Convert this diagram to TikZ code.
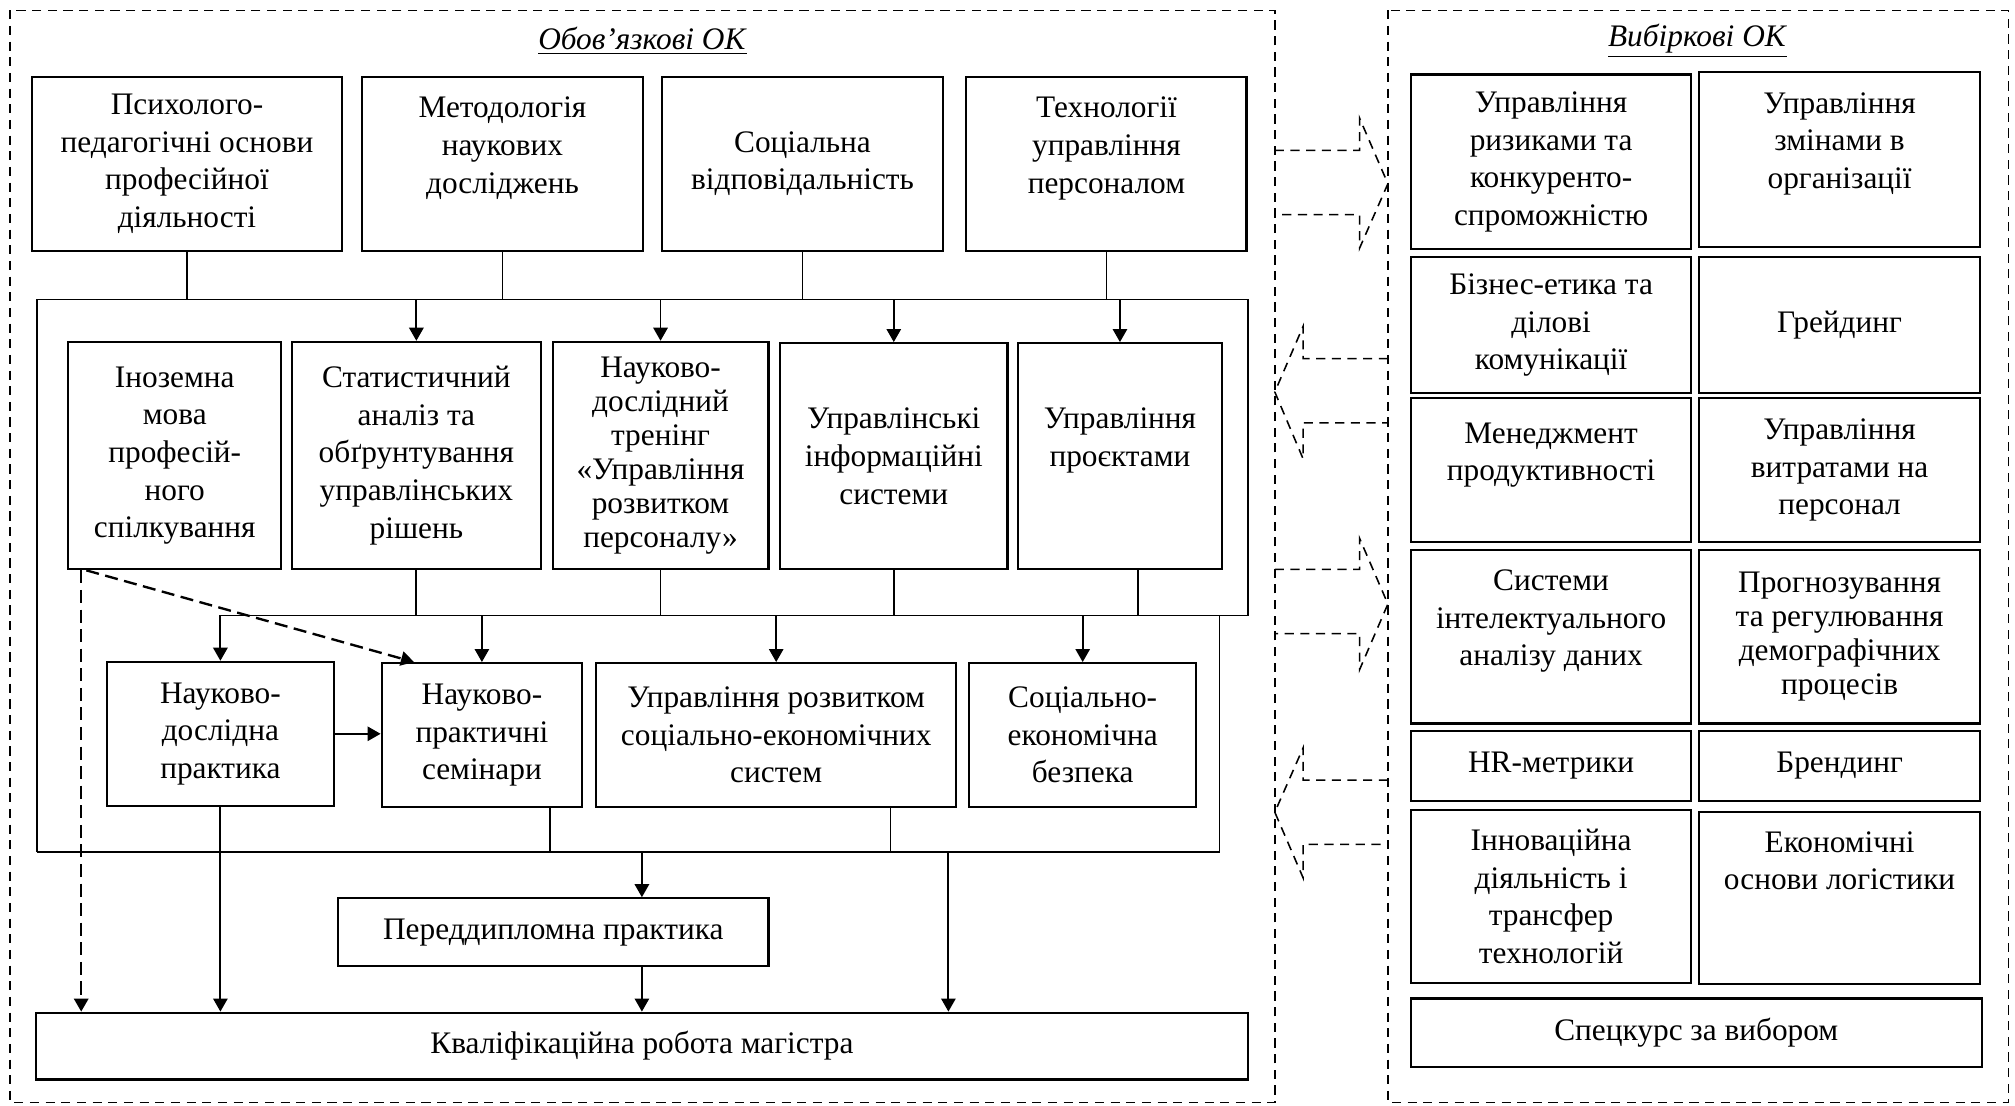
\documentclass[tikz,border=0pt]{standalone}
\usepackage{fontspec}
\setmainfont{Liberation Serif}
\usetikzlibrary{arrows.meta,fit,calc}

\begin{document}
\begin{tikzpicture}[x=0.0173cm,y=-0.0173cm,
                    font=\fontsize{12}{14.4}\selectfont,
                    box/.style={draw,line width=0.8pt,inner sep=0pt},
                    txt/.style={align=center,inner sep=0pt},
                    tight/.style={font=\fontsize{12}{13}\selectfont},
                    link/.style={line width=0.7pt},
                    arr/.style={link,-{Triangle[length=5pt,width=5.5pt]}},
                    dasharr/.style={arr,line width=0.9pt,dash pattern=on 5pt off 2.5pt},
                    zone/.style={line width=0.6pt,dash pattern=on 3.5pt off 2.5pt}]
                    \useasboundingbox (0,0) rectangle (1568,860);
                    \draw[zone] (8,8) rectangle (992,858);
                    \draw[zone] (1080,8) rectangle (1563,858);
                    \node (oblig) at (500,32) {\underline{\textit{Обов’язкові ОК}}};
                    \node (vybir) at (1321,32) {\underline{\textit{Вибіркові ОК}}};
                    \draw[zone] (992,117) -- (1058,117) -- (1058,92) -- (1080,143) -- (1058,193) -- (1058,167) -- (992,167);
                    \draw[zone] (1080,279) -- (1014,279) -- (1014,254) -- (992,305) -- (1014,357) -- (1014,329) -- (1080,329);
                    \draw[zone] (992,443) -- (1058,443) -- (1058,419) -- (1080,470) -- (1058,521) -- (1058,493) -- (992,493);
                    \draw[zone] (1080,607) -- (1014,607) -- (1014,582) -- (992,632) -- (1014,683) -- (1014,657) -- (1080,657);
                    \node[box,fit={(25,60) (266,195)},label={[txt]center:Психолого-\\педагогічні основи\\професійної\\діяльності}] (psy) {};
                    \node[box,fit={(282,60) (500,195)},label={[txt]center:Методологія\\наукових\\досліджень\\\mbox{}}] (met) {};
                    \node[box,fit={(515,60) (734,195)},label={[txt]center:Соціальна\\відповідальність}] (soc) {};
                    \node[box,fit={(752,60) (970,195)},label={[txt]center:Технології\\управління\\персоналом\\\mbox{}}] (tech) {};
                    \node[box,fit={(53,266) (219,443)},label={[txt]center:Іноземна\\мова\\професій-\\ного\\спілкування}] (ino) {};
                    \node[box,fit={(227,266) (421,443)},label={[txt]center:Статистичний\\аналіз та\\обґрунтування\\управлінських\\рішень}] (stat) {};
                    \node[box,fit={(430,266) (598,443)},label={[txt,tight]center:Науково-\\дослідний\\тренінг\\«Управління\\розвитком\\персоналу»}] (ndt) {};
                    \node[box,fit={(607,267) (784,443)},label={[txt]center:Управлінські\\інформаційні\\системи}] (uis) {};
                    \node[box,fit={(792,267) (951,443)},label={[txt]center:Управління\\проєктами\\\mbox{}}] (upr) {};
                    \node[box,fit={(83,515) (260,627)},label={[txt]center:Науково-\\дослідна\\практика}] (ndp) {};
                    \node[box,fit={(297,516) (453,628)},label={[txt]center:Науково-\\практичні\\семінари}] (npr) {};
                    \node[box,fit={(464,516) (744,628)},label={[txt]center:Управління розвитком\\соціально-економічних\\систем}] (urs) {};
                    \node[box,fit={(754,516) (931,628)},label={[txt]center:Соціально-\\економічна\\безпека}] (seb) {};
                    \node[box,fit={(263,699) (598,752)},label={[txt]center:Переддипломна практика}] (perd) {};
                    \node[box,fit={(28,788) (971,840)},label={[txt]center:Кваліфікаційна робота магістра}] (kvr) {};
                    \node[box,fit={(1098,58) (1316,194)},label={[txt]center:Управління\\ризиками та\\конкуренто-\\спроможністю}] (riz) {};
                    \node[box,fit={(1322,56) (1541,192)},label={[txt]center:Управління\\змінами в\\організації\\\mbox{}}] (zmin) {};
                    \node[box,fit={(1098,200) (1316,306)},label={[txt]center:Бізнес-етика та\\ділові\\комунікації}] (etyk) {};
                    \node[box,fit={(1322,200) (1541,306)},label={[txt]center:Грейдинг}] (greid) {};
                    \node[box,fit={(1098,310) (1316,422)},label={[txt]center:Менеджмент\\продуктивності\\\mbox{}}] (prod) {};
                    \node[box,fit={(1322,310) (1541,422)},label={[txt]center:Управління\\витратами на\\персонал}] (vytr) {};
                    \node[box,fit={(1098,428) (1316,563)},label={[txt]center:Системи\\інтелектуального\\аналізу даних\\\mbox{}}] (syst) {};
                    \node[box,fit={(1322,428) (1541,563)},label={[txt,tight]center:Прогнозування\\та регулювання\\демографічних\\процесів}] (progn) {};
                    \node[box,fit={(1098,569) (1316,623)},label={[txt]center:HR-метрики}] (hrm) {};
                    \node[box,fit={(1322,569) (1541,623)},label={[txt]center:Брендинг}] (brend) {};
                    \node[box,fit={(1098,630) (1316,765)},label={[txt]center:Інноваційна\\діяльність і\\трансфер\\технологій}] (innov) {};
                    \node[box,fit={(1322,632) (1541,766)},label={[txt]center:Економічні\\основи логістики\\\mbox{}\\\mbox{}}] (logist) {};
                    \node[box,fit={(1098,777) (1542,830)},label={[txt]center:Спецкурс за вибором}] (spec) {};
                    \coordinate (ftl) at (29,233);
                    \coordinate (ftr) at (971,233);
                    \coordinate (fmr) at (971,479);
                    \coordinate (fbr) at (949,663);
                    \coordinate (fbl) at (29,663);
                    \coordinate (fout) at (738,663);
                    \coordinate (uprout) at ($(upr.south)+(14,0)$);
                    \coordinate (nprout) at ($(npr.south)+(53,0)$);
                    \coordinate (ursout) at ($(urs.south)+(89,0)$);
                    \coordinate (inodown) at ($(ino.south west)+(11,0)$);
                    \coordinate (inodiag) at ($(ino.south west)+(15,0)$);
                    \coordinate (nprin) at ($(npr.north west)+(26,0)$);
                    \foreach \n in {psy,met,soc,tech} \draw[link] (\n.south) -- (\n.south |- ftl);
                    \draw[arr] (fbl) -- (ftl) -- (ftr) -- (fmr) -- (ndp.north |- fmr) -- (ndp.north);
                    \draw[link] (fmr -| fbr) -- (fbr) -- (fbl);
                    \foreach \n in {stat,ndt,uis,upr} \draw[arr] (\n.north |- ftl) -- (\n.north);
                    \foreach \n in {stat,ndt,uis} \draw[link] (\n.south) -- (\n.south |- fmr);
                    \draw[link] (uprout) -- (uprout |- fmr);
                    \foreach \n in {npr,urs,seb} \draw[arr] (\n.north |- fmr) -- (\n.north);
                    \draw[arr] (ndp.east) -- (ndp.east -| npr.west);
                    \draw[arr] (ndp.south) -- (ndp.south |- kvr.north);
                    \draw[link] (nprout) -- (nprout |- fbl);
                    \draw[link] (ursout) -- (ursout |- fbl);
                    \draw[arr] (kvr.north |- fbl) -- (kvr.north |- perd.north);
                    \draw[arr] (kvr.north |- perd.south) -- (kvr.north);
                    \draw[arr] (fout) -- (fout |- kvr.north);
                    \draw[dasharr] (inodown) -- (inodown |- kvr.north);
                    \draw[dasharr] (inodiag) -- (nprin);
                \end{tikzpicture}
\end{document}
